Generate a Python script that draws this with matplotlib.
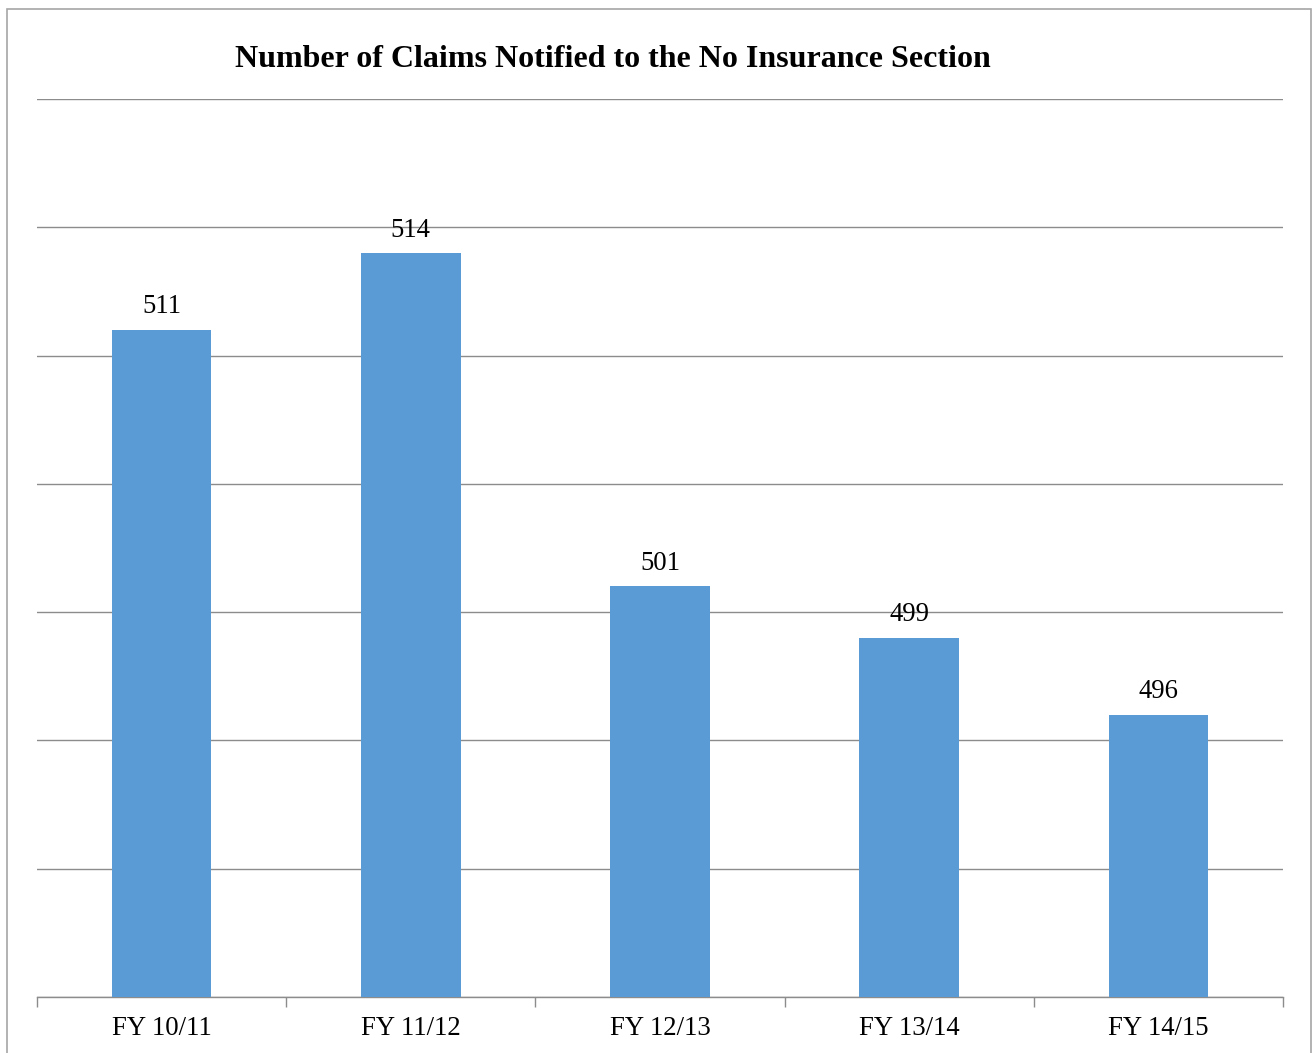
import matplotlib
matplotlib.use("Agg")
import matplotlib.pyplot as plt
from matplotlib.patches import Rectangle
import numpy as np

categories = ["FY 10/11", "FY 11/12", "FY 12/13", "FY 13/14", "FY 14/15"]
claims = [511, 514, 501, 499, 496]
title = "Number of Claims Notified to the No Insurance Section"

W, H = 1313, 1053
fig = plt.figure(figsize=(W / 100, H / 100), dpi=100)
plt.rcParams['font.family'] = ['Liberation Serif', 'DejaVu Serif']

# outer border
fig.patches.append(Rectangle((7 / W, -0.01), (1311 - 7) / W, (H - 9) / H + 0.01,
                             transform=fig.transFigure, fill=False,
                             edgecolor='#a6a6a6', linewidth=1.2))

left, right, top, bottom = 37, 1283, 99, 997
ax = fig.add_axes([left / W, 1 - bottom / H, (right - left) / W, (bottom - top) / H])

x = np.arange(len(categories))
ax.bar(x, claims, width=0.4, color='#5B9BD5', zorder=3)
ax.set_ylim(485, 520)
ax.set_xlim(-0.5, len(categories) - 0.5)
ax.set_yticks(np.arange(485, 521, 5))
ax.yaxis.grid(True, color='#8c8c8c', linewidth=1.0, zorder=0)
ax.tick_params(axis='y', left=False, labelleft=False)
for s in ['top', 'right', 'left']:
    ax.spines[s].set_visible(False)
ax.spines['bottom'].set_color('#8c8c8c')
ax.spines['bottom'].set_linewidth(1.0)

# x ticks at category boundaries, labels at centers
ax.set_xticks(np.arange(-0.5, len(categories), 1.0))
ax.set_xticklabels([])
ax.tick_params(axis='x', which='major', length=7, color='#8c8c8c', width=1.0)
ax.set_xticks(x, minor=True)
ax.set_xticklabels(categories, minor=True, fontsize=19.3)
ax.tick_params(axis='x', which='minor', length=0, pad=14)

for xi, v in zip(x, claims):
    ax.annotate(str(v), (xi, v), xytext=(0, 7.5), textcoords='offset points',
                ha='center', va='bottom', fontsize=19.3)

fig.text(613 / W, 1 - 60 / H, title, ha='center', va='center',
         fontsize=23, fontweight='bold')

fig.savefig("out.png", dpi=100)
